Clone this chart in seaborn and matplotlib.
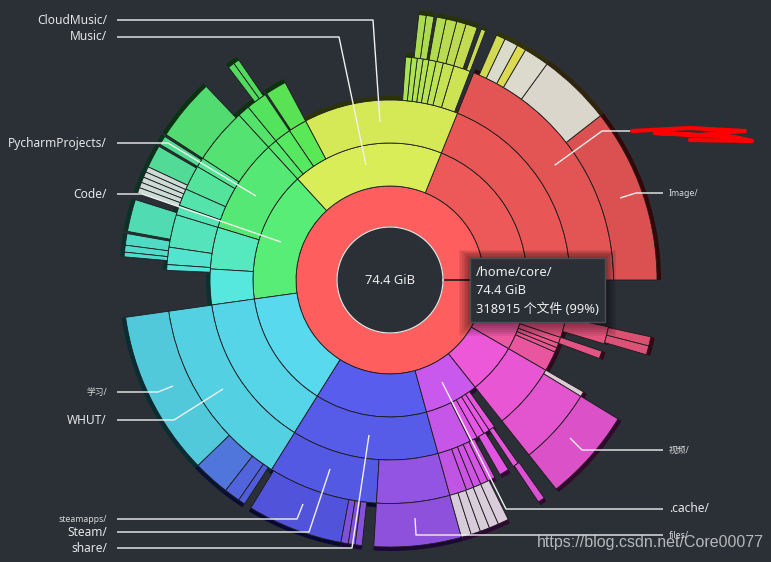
import colorsys
import numpy as np
import matplotlib
matplotlib.use("Agg")
import matplotlib.pyplot as plt
import seaborn as sns
from matplotlib.patches import Rectangle

TOTAL_GIB = 74.4
ROOT_PATH = "/home/core/"
FILE_COUNT = 318915
FILE_SHARE = 99

# Sizes in GiB for each ring, walking counter-clockwise from 3 o'clock.
# kinds: d = directory, f = file, - = space not drawn (small items)
ring1_sizes = [74.4]
ring1_kinds = ["d"]

ring2_sizes = [14.05, 13.33, 11.47, 10.33, 9.82, 4.75, 4.44, 6.20]
ring2_kinds = ["d"] * 8

ring3_sizes = [14.05, 10.33, 1.24, 1.12, 0.64, 6.30, 2.79, 2.38, 10.33, 9.82,
               2.27, 0.52, 0.52, 0.41, 0.41, 0.62, 4.44, 1.34, 0.31, 0.31,
               0.41, 3.82]
ring3_kinds = ["d"] * 15 + ["-"] + ["d"] * 6

ring4_sizes = [14.05, 0.21, 0.91, 0.58, 0.39, 0.39, 0.31, 0.31, 0.31, 0.31,
               6.61, 1.14, 0.10, 1.12, 0.64, 3.00, 0.52, 1.34, 0.93, 0.52,
               1.76, 0.93, 0.31, 2.17, 10.33, 5.89, 3.93, 0.93, 0.41, 0.41,
               0.41, 0.41, 0.31, 0.52, 0.31, 0.31, 0.72, 4.17, 0.27, 1.96,
               0.41, 0.41, 0.93]
ring4_kinds = (["d", "-"] + ["d"] * 8 + ["-", "d", "-"] + ["d"] * 10 + ["-"]
               + ["d"] * 8 + ["-", "d", "-", "d", "-", "d", "f", "-", "d", "-", "d"])

ring5_sizes = [7.85, 3.31, 1.14, 0.41, 0.62, 0.41, 0.52, 0.21, 0.19, 0.52,
               0.43, 0.48, 0.43, 0.12, 0.35, 0.33, 8.41, 0.27, 0.29, 1.30,
               2.79, 0.10, 0.41, 0.10, 1.03, 0.25, 0.25, 0.25, 0.25, 0.25,
               0.31, 1.45, 0.10, 0.52, 0.31, 0.21, 2.69, 7.44, 1.65, 0.72,
               0.31, 0.33, 4.30, 0.33, 0.31, 0.31, 0.52, 3.93, 0.45, 0.43,
               0.43, 0.43, 0.48, 1.55, 0.31, 0.66, 4.17, 3.12, 0.41, 0.41]
ring5_kinds = (["d", "f", "f", "d", "f", "d", "-", "d", "-", "d", "d", "d", "d", "-", "d", "d", "-",
                "d", "d", "-", "d", "-", "d", "-", "d", "f", "f", "f", "f", "f", "-",
                "d", "-", "d", "d", "d", "-", "d", "d", "d", "d", "-", "d", "d", "d", "d", "-",
                "d", "f", "f", "f", "f", "f", "-", "d", "-", "d", "-", "d", "d"])

rings = [(ring1_sizes, ring1_kinds), (ring2_sizes, ring2_kinds), (ring3_sizes, ring3_kinds),
         (ring4_sizes, ring4_kinds), (ring5_sizes, ring5_kinds)]

# labels: (text, small font, leader line points in pixels)
left_labels = [
    ("CloudMusic/", False, [(380, 122), (373, 20), (117, 20)]),
    ("Music/", False, [(366, 165), (339, 37), (117, 37)]),
    ("PycharmProjects/", False, [(256, 196), (168, 143), (117, 143)]),
    ("Code/", False, [(281, 242), (142, 194), (117, 194)]),
    ("学习/", True, [(173, 386), (158, 392), (117, 392)]),
    ("WHUT/", False, [(223, 389), (174, 420), (117, 420)]),
    ("steamapps/", True, [(303, 504), (297, 519), (117, 519)]),
    ("Steam/", False, [(330, 469), (309, 532), (117, 532)]),
    ("share/", False, [(369, 435), (352, 548), (117, 548)]),
]
right_labels = [
    ("Image/", True, [(620, 198), (636, 193), (663, 193)]),
    ("视频/", True, [(570, 438), (582, 450), (663, 450)]),
    (".cache/", False, [(442, 382), (506, 509), (663, 509)]),
    ("files/", True, [(415, 518), (416, 535), (663, 535)]),
]

BG = "#2b2f36"
SAT = 0.63
VAL = [1.0, 0.93, 0.91, 0.89, 0.86]
ring_edges = [53, 94, 137, 180, 223.5, 267]


def seg_color(start_deg, depth, kind):
    h = (start_deg % 360) / 360
    if kind == "f":
        return colorsys.hsv_to_rgb(h, 0.07, 0.86)
    return colorsys.hsv_to_rgb(h, SAT, VAL[depth])


def shadow_color(start_deg):
    return colorsys.hsv_to_rgb((start_deg % 360) / 360, 0.85, 0.2)


sns.set_theme(style="dark", rc={"figure.facecolor": BG, "axes.facecolor": BG,
                                "savefig.facecolor": BG})
plt.rcParams["font.family"] = ["Noto Sans", "Noto Sans CJK SC", "DejaVu Sans"]

W, H = 771, 562
CX, CY = 390, 280
R = 280
fig = plt.figure(figsize=(W / 100, H / 100), dpi=100)
ax = fig.add_axes([(CX - R) / W, (H - CY - R) / H, 2 * R / W, 2 * R / H], projection="polar")
ax.set_ylim(0, R)
ax.set_axis_off()

for depth, (sizes, kinds) in enumerate(rings):
    sizes = np.array(sizes, dtype=float)
    starts = np.concatenate([[0], np.cumsum(sizes)[:-1]]) / TOTAL_GIB * 2 * np.pi
    widths = sizes / TOTAL_GIB * 2 * np.pi
    keep = np.array([k != "-" for k in kinds])
    deg = np.degrees(starts[keep])
    cols = [seg_color(d, depth, k) for d, k in zip(deg, np.array(kinds)[keep])]
    shads = [shadow_color(d) for d in deg]
    inner, outer = ring_edges[depth], ring_edges[depth + 1]
    ax.bar(starts[keep], outer - inner + 4, width=widths[keep], bottom=inner,
           align="edge", color=shads, linewidth=0, zorder=1)
    ax.bar(starts[keep], outer - inner, width=widths[keep], bottom=inner,
           align="edge", color=cols, edgecolor="#1d1d1d", linewidth=0.6, zorder=2)

t = np.linspace(0, 2 * np.pi, 400)
ax.plot(t, np.full_like(t, ring_edges[0]), color="#e6e6e6", lw=0.9, zorder=3)
ax.text(0, 0, f"{TOTAL_GIB} GiB", ha="center", va="center", color="#ececec", fontsize=9.3)

# overlay in pixel coordinates for labels and tooltip
ov = fig.add_axes([0, 0, 1, 1])
ov.set_xlim(0, W)
ov.set_ylim(H, 0)
ov.axis("off")
ov.patch.set_alpha(0)

BIG, SMALL = 8.6, 6.3
for text, small, pts in left_labels:
    xs, ys = zip(*pts)
    ov.plot(xs, ys, color="#f0f0f0", lw=1, solid_capstyle="butt")
    ov.text(pts[-1][0] - 10, pts[-1][1], text, ha="right", va="center",
            color="#d8d8d8" if small else "#e6e6e6", fontsize=SMALL if small else BIG)

for text, small, pts in right_labels:
    xs, ys = zip(*pts)
    ov.plot(xs, ys, color="#f0f0f0", lw=1, solid_capstyle="butt")
    ov.text(pts[-1][0] + 6, pts[-1][1], text, ha="left", va="center",
            color="#d8d8d8" if small else "#e6e6e6", fontsize=SMALL if small else BIG)

# redacted label
ov.plot([555, 602, 635], [165, 131, 131], color="#f0f0f0", lw=1)
ov.plot([632, 690, 745, 700, 655, 735, 752, 690],
        [131, 128, 131, 135, 133, 137, 141, 140], color="#ff0000", lw=3,
        solid_joinstyle="round")

# tooltip with soft shadow
tx, ty, tw, th = 470, 258, 135, 64
for i in range(7, 0, -1):
    ov.add_patch(Rectangle((tx - i * 1.6, ty - i * 1.2), tw + i * 3.2, th + i * 3.2,
                           facecolor="black", edgecolor="none", alpha=0.07))
ov.add_patch(Rectangle((tx, ty), tw, th, facecolor=BG, edgecolor="#4b5058", lw=1))
tip = [ROOT_PATH, f"{TOTAL_GIB} GiB", f"{FILE_COUNT} 个文件 ({FILE_SHARE}%)"]
for i, line in enumerate(tip):
    ov.text(tx + 6, ty + 14 + i * 18.5, line, ha="left", va="center",
            color="#eeeeee", fontsize=9.3)

ov.text(537, 543, "https://blog.csdn.net/Core00077", ha="left", va="center",
        color="#cfcfcf", alpha=0.85, fontsize=11.5, family="Liberation Sans")

fig.savefig("out.png", dpi=100, facecolor=BG)
